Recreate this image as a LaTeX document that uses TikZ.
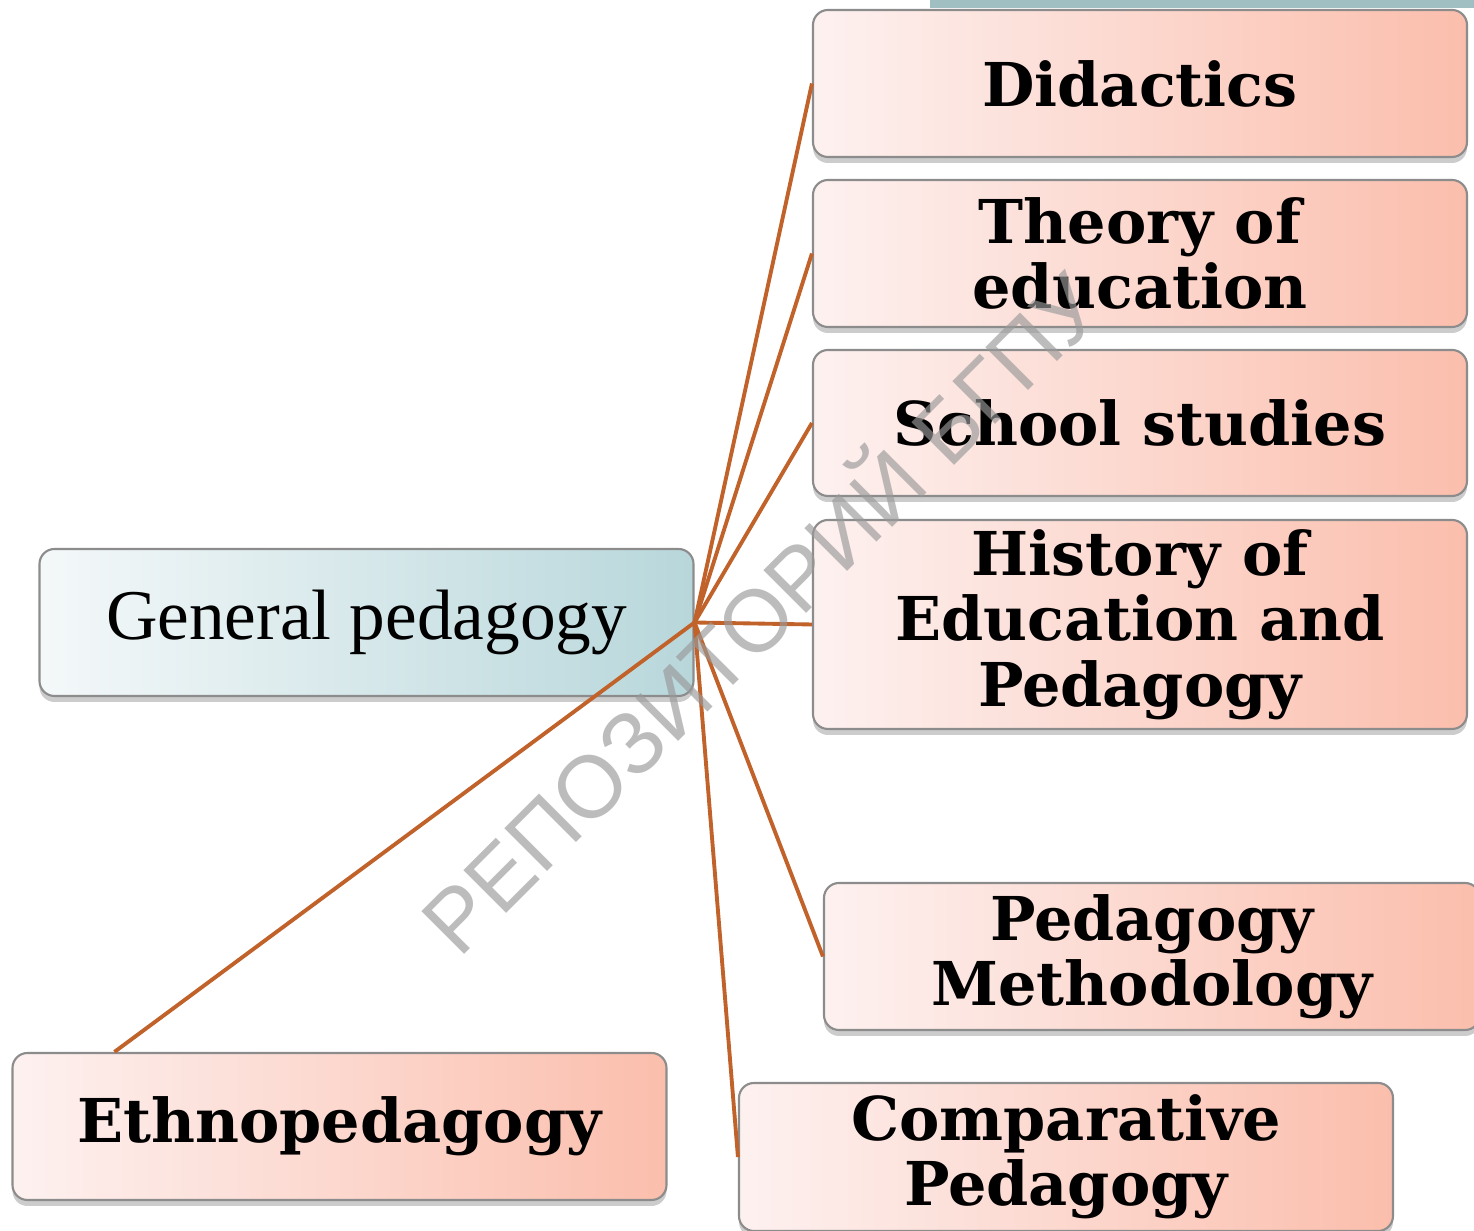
\documentclass[tikz,border=0pt]{standalone}
\usepackage{fontspec}
\usepackage{xcolor}
\usepackage{tikz}
\usetikzlibrary{shadows}
\setmainfont{Liberation Serif}
\newfontfamily\boxfont{DejaVu Serif}
\newfontfamily\markfont{Liberation Sans}

\definecolor{boxpink}{HTML}{FDF1F0}
\definecolor{boxsalmon}{HTML}{FBBEAC}
\definecolor{boxpale}{HTML}{F4F8F9}
\definecolor{boxteal}{HTML}{B8D7DB}
\definecolor{barteal}{HTML}{9FBFC2}
\definecolor{linkline}{HTML}{C0622A}
\definecolor{boxedge}{HTML}{8C8C8C}

\begin{document}
\begin{tikzpicture}[
  topic/.style={draw=boxedge, line width=0.6pt, rounded corners=0.15cm,
    left color=boxpink, right color=boxsalmon,
    minimum width=6.54cm, minimum height=1.47cm, inner sep=0pt, align=center,
    font=\boxfont\bfseries\fontsize{17.2}{18.6}\selectfont,
    drop shadow={shadow xshift=0pt, shadow yshift=-0.06cm, opacity=0.4}},
  root/.style={topic, left color=boxpale, right color=boxteal,
    font=\fontsize{20.3}{22}\selectfont},
  link/.style={draw=linkline, line width=1.1pt}
]
\clip (0,0) rectangle (14.74,-12.31);
\fill[white] (0,0) rectangle (14.74,-12.31);
\fill[barteal] (9.30,0) rectangle (14.74,-0.085);

\node[root] (gen) at (3.665,-6.225) {General pedagogy};

\node[topic] (did) at (11.40,-0.835) {Didactics};
\node[topic] (the) at (11.40,-2.535) {Theory of\\education};
\node[topic, minimum height=1.46cm] (sch) at (11.40,-4.23) {School studies};
\node[topic, minimum height=2.09cm] (his) at (11.40,-6.245) {History of\\Education and\\Pedagogy};
\node[topic, minimum width=6.56cm] (met) at (11.52,-9.565) {Pedagogy\\Methodology};
\node[topic, minimum height=1.48cm] (com) at (10.66,-11.57) {Comparative\\Pedagogy};
\node[topic] (eth) at (3.395,-11.265) {Ethnopedagogy};

\coordinate (ethtop) at ([xshift=1.03cm]eth.north west);

\draw[link] (gen.east) -- (did.west);
\draw[link] (gen.east) -- (the.west);
\draw[link] (gen.east) -- (sch.west);
\draw[link] (gen.east) -- (his.west);
\draw[link] (gen.east) -- (met.west);
\draw[link] (gen.east) -- (com.west);
\draw[link] (gen.east) -- (ethtop);

\node[rotate=45, text=black!40, opacity=0.65, inner sep=0pt,
  font=\markfont\fontsize{25}{25}\selectfont] (mark) at (7.56,-6.08) {РЕПОЗИТОРИЙ БГПУ};
\end{tikzpicture}
\end{document}
